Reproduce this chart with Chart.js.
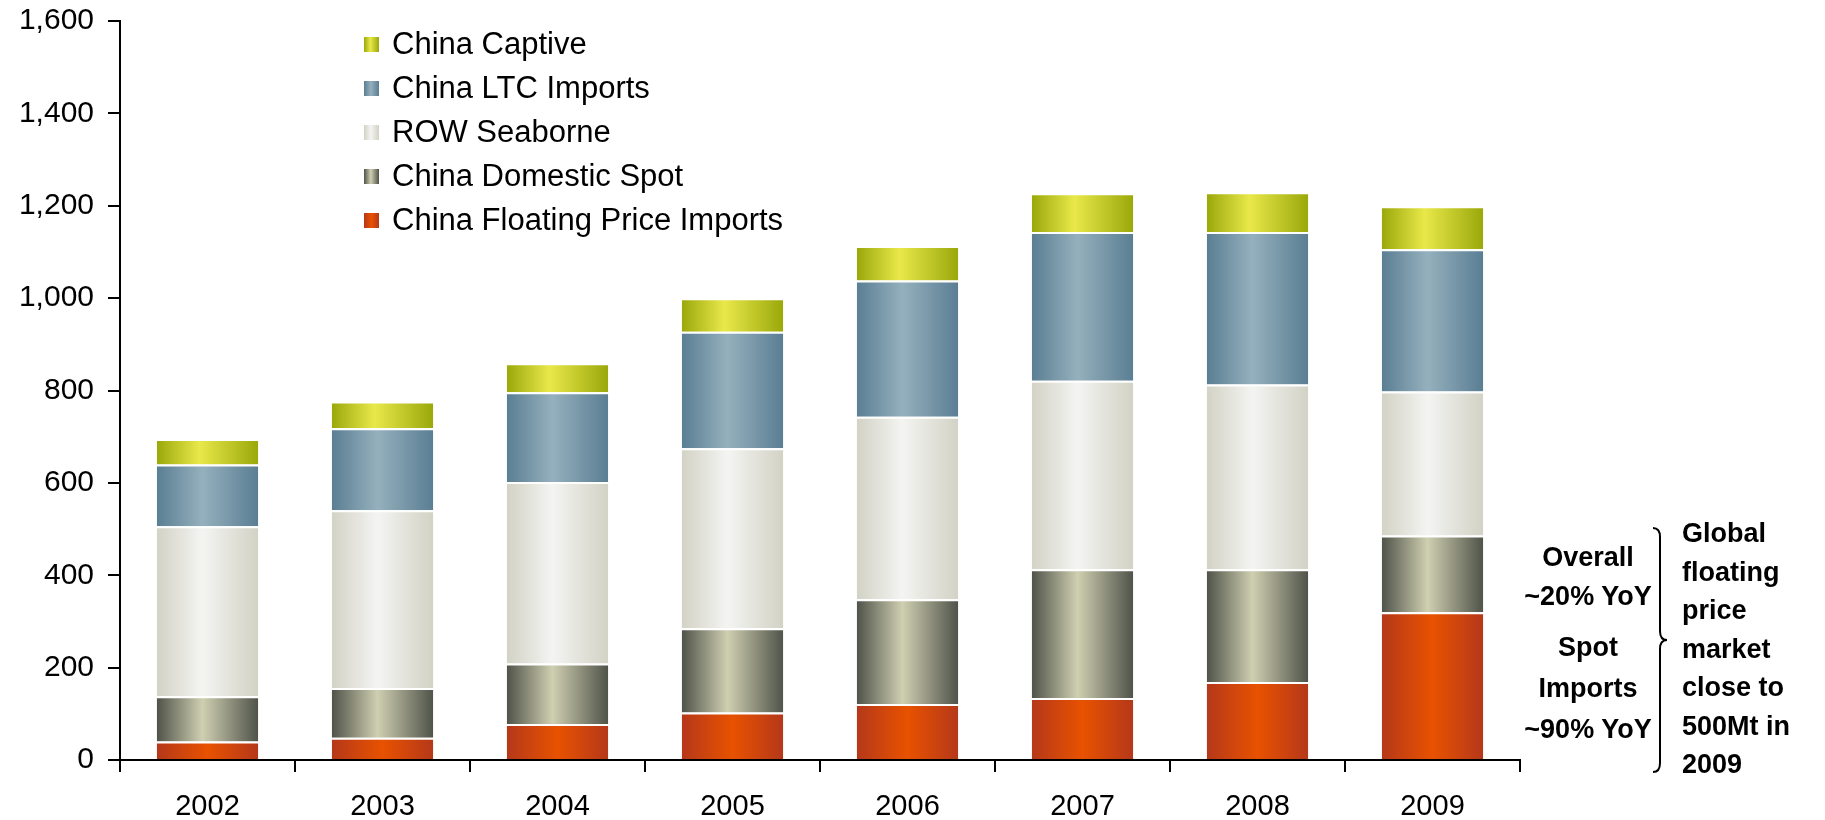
<!DOCTYPE html>
<html>
<head>
<meta charset="utf-8">
<script src="https://cdn.jsdelivr.net/npm/chart.js@4.4.1/dist/chart.umd.min.js"></script>
<style>
  body { margin: 0; background: #fff; }
  #wrap { position: relative; width: 1825px; height: 820px; font-family: "Liberation Sans", Arial, sans-serif; }
  #legend { position: absolute; left: 364px; top: 22px; }
  .row { display: flex; align-items: center; height: 44px; font-size: 31px; color: #000; }
  .sw { width: 15px; height: 15px; margin-right: 13px; }
  .note { position: absolute; font-weight: bold; font-size: 27px; line-height: 39px; color: #000; }
</style>
</head>
<body>
<div id="wrap">
  <canvas id="myChart" width="1825" height="820"></canvas>
  <div id="legend"></div>
  <div class="note" style="left:1500px; top:538px; width:176px; text-align:center;">Overall<br>~20% YoY</div>
  <div class="note" style="left:1500px; top:627px; width:176px; text-align:center; line-height:41px;">Spot<br>Imports<br>~90% YoY</div>
  <div class="note" style="left:1682px; top:514px; line-height:38.5px;">Global<br>floating<br>price<br>market<br>close to<br>500Mt in<br>2009</div>
</div>
<script>
// Chart data
const years = ['2002', '2003', '2004', '2005', '2006', '2007', '2008', '2009'];
const floatingImports = [40, 48, 78, 103, 121, 134, 169, 320];
const domesticSpot = [98, 108, 131, 182, 227, 279, 244, 166];
const rowSeaborne = [368, 385, 393, 390, 395, 408, 400, 312];
const ltcImports = [134, 177, 194, 252, 295, 322, 330, 308];
const captive = [55, 58, 63, 73, 75, 84, 86, 93];
const yTicks = [0, 200, 400, 600, 800, 1000, 1200, 1400, 1600];

const barPct = 0.58;

// edge colour, centre colour, centre position
const looks = {
    floating: ['#b5381a', '#e85200', 0.5],
    domestic: ['#4f5349', '#cfcfb1', 0.45],
    row: ['#d2d2c5', '#f4f4f2', 0.45],
    ltc: ['#5a7e93', '#95b0bd', 0.45],
    captive: ['#9aa80a', '#e9e84a', 0.42]
};

function gradient(look) {
    return function (ctx) {
        const chart = ctx.chart;
        const xs = chart.scales.x;
        if (!xs || ctx.type !== 'data') return look[1];
        const w = xs.width / years.length * barPct;
        const cx = xs.getPixelForValue(ctx.dataIndex);
        if (!isFinite(w) || !isFinite(cx) || w <= 0) return look[1];
        const g = chart.ctx.createLinearGradient(cx - w / 2, 0, cx + w / 2, 0);
        g.addColorStop(0, look[0]);
        g.addColorStop(look[2], look[1]);
        g.addColorStop(1, look[0]);
        return g;
    };
}

const series = [
    { label: 'China Floating Price Imports', data: floatingImports, look: looks.floating },
    { label: 'China Domestic Spot', data: domesticSpot, look: looks.domestic },
    { label: 'ROW Seaborne', data: rowSeaborne, look: looks.row },
    { label: 'China LTC Imports', data: ltcImports, look: looks.ltc },
    { label: 'China Captive', data: captive, look: looks.captive }
];

// html legend, top item is the top of the stack
const legend = document.getElementById('legend');
series.slice().reverse().forEach(s => {
    const row = document.createElement('div');
    row.className = 'row';
    const sw = document.createElement('div');
    sw.className = 'sw';
    sw.style.background = 'linear-gradient(to right,' + s.look[0] + ',' + s.look[1] + ' ' + (s.look[2] * 100) + '%,' + s.look[0] + ')';
    row.appendChild(sw);
    row.appendChild(document.createTextNode(s.label));
    legend.appendChild(row);
});

// curly brace next to the notes
const bracePlugin = {
    id: 'brace',
    afterDraw(chart) {
        const c = chart.ctx;
        const x = 1660, top = 528, bot = 772, mid = 640;
        c.save();
        c.strokeStyle = '#000';
        c.lineWidth = 2;
        c.beginPath();
        c.moveTo(x - 7, top);
        c.quadraticCurveTo(x, top, x, top + 9);
        c.lineTo(x, mid - 9);
        c.quadraticCurveTo(x, mid, x + 7, mid);
        c.quadraticCurveTo(x, mid, x, mid + 9);
        c.lineTo(x, bot - 9);
        c.quadraticCurveTo(x, bot, x - 7, bot);
        c.stroke();
        c.restore();
    }
};

Chart.defaults.font.family = '"Liberation Sans", Arial, sans-serif';
Chart.defaults.color = '#000';

const canvas = document.getElementById('myChart');
const myChart = new Chart(canvas, {
    type: 'bar',
    data: {
        labels: years,
        datasets: series.map(s => ({
            label: s.label,
            data: s.data,
            backgroundColor: gradient(s.look),
            borderColor: '#ffffff',
            borderWidth: { top: 2, left: 0, right: 0, bottom: 0 },
            borderSkipped: false,
            barPercentage: barPct,
            categoryPercentage: 1
        }))
    },
    options: {
        responsive: false,
        animation: false,
        layout: { padding: { top: 21, right: 305, left: 0, bottom: 0 } },
        plugins: {
            legend: { display: false },
            tooltip: { enabled: false }
        },
        scales: {
            x: {
                stacked: true,
                afterFit: s => { s.height = 60; s.paddingLeft = 0; s.paddingRight = 0; },
                grid: { drawOnChartArea: false, tickLength: 12, color: '#000', lineWidth: 2, offset: true },
                border: { color: '#000', width: 2 },
                ticks: { font: { size: 29 }, padding: 18 }
            },
            y: {
                stacked: true,
                min: 0,
                max: 1600,
                afterFit: s => { s.width = 120; s.paddingTop = 0; s.paddingBottom = 0; },
                afterBuildTicks: s => { s.ticks = yTicks.map(v => ({ value: v })); },
                grid: { drawOnChartArea: false, tickLength: 12, color: '#000', lineWidth: 2 },
                border: { color: '#000', width: 2 },
                ticks: {
                    font: { size: 30, lineHeight: 1 },
                    padding: 14,
                    callback: v => v.toLocaleString('en-US')
                }
            }
        }
    },
    plugins: [bracePlugin]
});
</script>
</body>
</html>
